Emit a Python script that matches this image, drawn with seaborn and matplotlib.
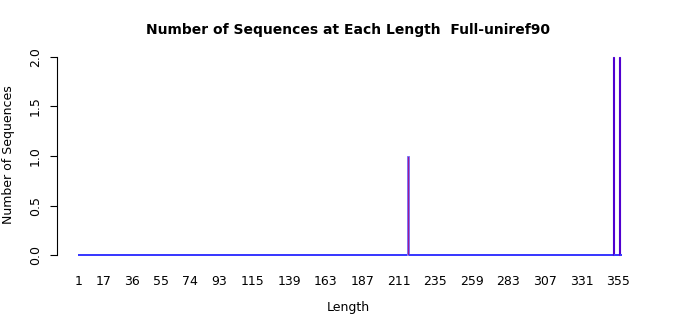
import numpy as np
import pandas as pd
import matplotlib
matplotlib.use("Agg")
import matplotlib.pyplot as plt
import seaborn as sns

# Data
lengths = list(range(1, 358))
nonzero_lengths = [217, 352, 356]
nonzero_counts = [1, 2, 2]
tick_labels = [1, 17, 36, 55, 74, 93, 115, 139, 163, 187, 211, 235, 259, 283, 307, 331, 355]
y_ticks = [0.0, 0.5, 1.0, 1.5, 2.0]

counts = [0] * len(lengths)
for L, c in zip(nonzero_lengths, nonzero_counts):
    counts[lengths.index(L)] = c
df = pd.DataFrame({"Length": lengths, "Count": counts})

sns.set_style("white")
plt.rcParams['font.family'] = ['DejaVu Sans']
plt.rcParams['text.color'] = 'black'
plt.rcParams['axes.labelcolor'] = 'black'
plt.rcParams['xtick.color'] = 'black'
plt.rcParams['ytick.color'] = 'black'

W, H = 700, 315
fig = plt.figure(figsize=(7, 3.15), dpi=100)
left_px, right_px = 57, 640
bottom_px, top_px = 257, 53
ax = fig.add_axes([left_px / W, 1 - bottom_px / H, (right_px - left_px) / W, (bottom_px - top_px) / H])

sns.barplot(data=df, x="Length", y="Count", native_scale=True, width=1.0,
            color="#5a00c8", edgecolor="#3a3aff", linewidth=1.2, ax=ax, errorbar=None)

for patch, c in zip(ax.patches, counts):
    patch.set_antialiased(False)
    if c == 1:
        patch.set_facecolor("#a01890")
        patch.set_edgecolor("#7070ff")
        patch.set_linewidth(0.6)
        patch.set_antialiased(True)
    elif c == 2:
        patch.set_facecolor("#5a00c8")
        patch.set_edgecolor("#5000d0")
        patch.set_linewidth(0.8)
        patch.set_antialiased(True)
    else:
        patch.set_edgecolor("#3a3aff")
        patch.set_linewidth(1.2)

ppu = (618 - 79) / (355 - 1)
ax.set_xlim(1 - (79 - left_px) / ppu, 1 + (right_px - 79) / ppu)
ax.set_ylim(-0.02, 2.04)

for s in ["top", "right", "bottom"]:
    ax.spines[s].set_visible(False)
ax.spines["left"].set_bounds(0, 2)
ax.spines["left"].set_color("black")
ax.spines["left"].set_linewidth(0.8)

ax.set_yticks(y_ticks)
ax.set_yticklabels([f"{v:.1f}" for v in y_ticks], rotation=90, va="center", fontsize=9)
ax.tick_params(axis="y", which="both", left=True, length=5, width=0.8, color="black", pad=6)
ax.set_xticks(tick_labels)
ax.set_xticklabels([str(t) for t in tick_labels], fontsize=9)
ax.tick_params(axis="x", bottom=False, length=0, pad=13)

ax.set_xlabel("Length", fontsize=9, labelpad=9)
ax.set_ylabel("Number of Sequences", fontsize=9, labelpad=10)
ax.set_title("Number of Sequences at Each Length  Full-uniref90", fontsize=10, fontweight="bold", pad=14)
ax.grid(False)

fig.savefig("out.png", dpi=100)
